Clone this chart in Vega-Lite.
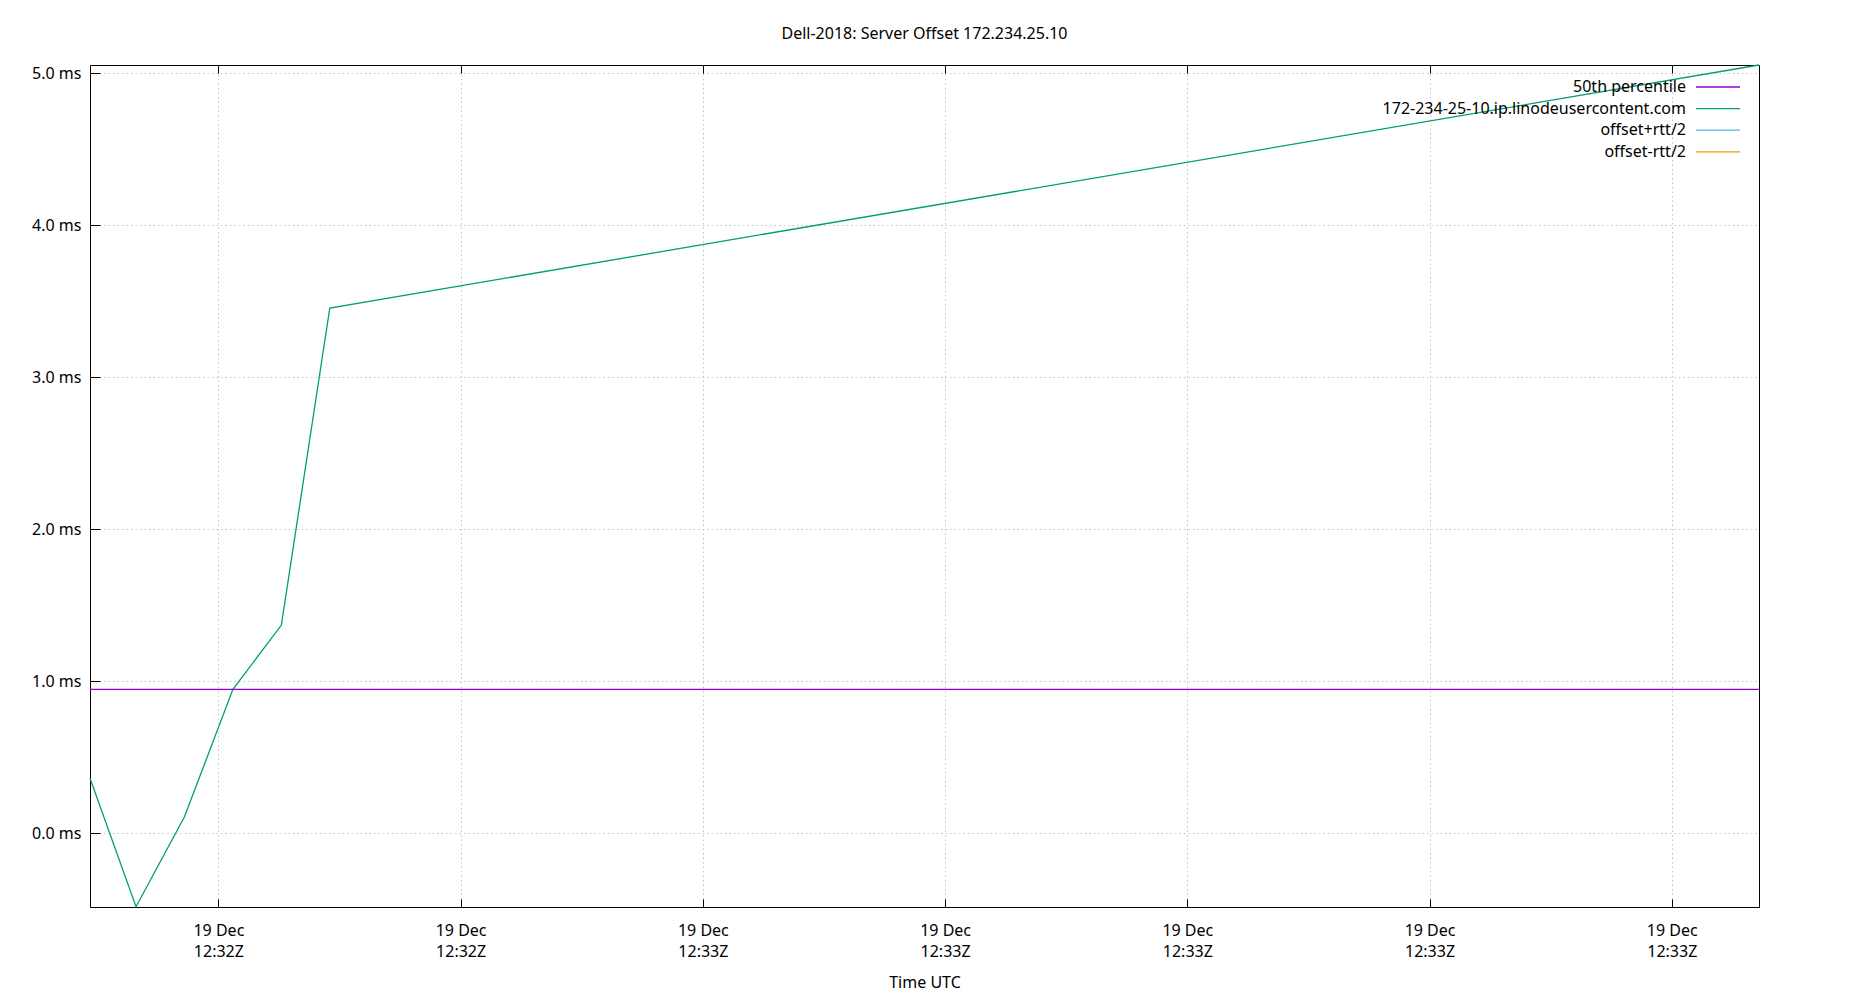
{
  "$schema": "https://vega.github.io/schema/vega-lite/v6.json",
  "width": 1669,
  "height": 842,
  "autosize": {"type": "none"},
  "padding": {"left": 90, "top": 65, "right": 91, "bottom": 93},
  "background": "white",
  "title": {
    "text": "Dell-2018: Server Offset 172.234.25.10",
    "anchor": "middle",
    "frame": "group",
    "offset": 7,
    "baseline": "alphabetic",
    "fontSize": 16,
    "font": "Noto Sans",
    "fontWeight": "normal",
    "color": "black"
  },
  "config": {
    "view": {"stroke": "black", "strokeWidth": 1},
    "font": "Noto Sans",
    "axis": {
      "domain": false,
      "tickColor": "black",
      "tickWidth": 1,
      "labelColor": "black",
      "labelFontSize": 16,
      "labelFont": "Noto Sans",
      "titleFont": "Noto Sans",
      "titleFontSize": 16,
      "titleFontWeight": "normal",
      "titleColor": "black",
      "gridColor": "#c4c4c4",
      "gridDash": [1.5, 3],
      "gridWidth": 1
    }
  },
  "layer": [
    {
      "data": {
        "values": [
          {"time": "2024-12-19T12:32:34.700Z", "value": 0.362, "series": "172-234-25-10.ip.linodeusercontent.com"},
          {"time": "2024-12-19T12:32:36.600Z", "value": -0.483, "series": "172-234-25-10.ip.linodeusercontent.com"},
          {"time": "2024-12-19T12:32:38.600Z", "value": 0.109, "series": "172-234-25-10.ip.linodeusercontent.com"},
          {"time": "2024-12-19T12:32:40.600Z", "value": 0.947, "series": "172-234-25-10.ip.linodeusercontent.com"},
          {"time": "2024-12-19T12:32:42.600Z", "value": 1.370, "series": "172-234-25-10.ip.linodeusercontent.com"},
          {"time": "2024-12-19T12:32:44.600Z", "value": 3.456, "series": "172-234-25-10.ip.linodeusercontent.com"},
          {"time": "2024-12-19T12:33:43.600Z", "value": 5.055, "series": "172-234-25-10.ip.linodeusercontent.com"}
        ]
      },
      "mark": {"type": "line", "strokeWidth": 1.3},
      "encoding": {
        "x": {
          "field": "time",
          "type": "temporal",
          "scale": {
            "type": "utc",
            "nice": false,
            "domain": [
              {"year": 2024, "month": 12, "date": 19, "hours": 12, "minutes": 32, "seconds": 34, "milliseconds": 700, "utc": true},
              {"year": 2024, "month": 12, "date": 19, "hours": 12, "minutes": 33, "seconds": 43, "milliseconds": 600, "utc": true}
            ]
          },
          "axis": {
            "orient": "bottom",
            "values": [
              {"year": 2024, "month": 12, "date": 19, "hours": 12, "minutes": 32, "seconds": 40, "utc": true},
              {"year": 2024, "month": 12, "date": 19, "hours": 12, "minutes": 32, "seconds": 50, "utc": true},
              {"year": 2024, "month": 12, "date": 19, "hours": 12, "minutes": 33, "seconds": 0, "utc": true},
              {"year": 2024, "month": 12, "date": 19, "hours": 12, "minutes": 33, "seconds": 10, "utc": true},
              {"year": 2024, "month": 12, "date": 19, "hours": 12, "minutes": 33, "seconds": 20, "utc": true},
              {"year": 2024, "month": 12, "date": 19, "hours": 12, "minutes": 33, "seconds": 30, "utc": true},
              {"year": 2024, "month": 12, "date": 19, "hours": 12, "minutes": 33, "seconds": 40, "utc": true}
            ],
            "labelExpr": "[utcFormat(datum.value, '%d %b'), utcFormat(datum.value, '%H:%MZ')]",
            "labelAngle": 0,
            "labelFlush": false,
            "labelOverlap": false,
            "labelBaseline": "top",
            "labelLineHeight": 21,
            "tickSize": -8,
            "labelPadding": 23,
            "grid": true,
            "title": "Time UTC",
            "titlePadding": 15.5
          }
        },
        "y": {
          "field": "value",
          "type": "quantitative",
          "scale": {"domain": [-0.485, 5.055], "nice": false, "zero": false},
          "axis": {
            "values": [0, 1, 2, 3, 4, 5],
            "labelExpr": "format(datum.value, '.1f') + ' ms'",
            "tickSize": -10,
            "labelPadding": 19,
            "grid": true,
            "title": null
          }
        },
        "color": {
          "field": "series",
          "type": "nominal",
          "scale": {
            "domain": ["50th percentile", "172-234-25-10.ip.linodeusercontent.com", "offset+rtt/2", "offset-rtt/2"],
            "range": ["#9400d3", "#009e73", "#56b4e9", "#e69f00"]
          },
          "legend": {
            "title": null,
            "orient": "none",
            "legendX": 1607,
            "legendY": 10,
            "direction": "vertical",
            "symbolType": "M-2,0H2",
            "symbolSize": 484,
            "symbolOffset": 9,
            "symbolStrokeWidth": 1.3,
            "labelAlign": "right",
            "labelOffset": -44,
            "labelFontSize": 16,
            "labelFont": "Noto Sans",
            "labelColor": "black",
            "labelLimit": 1000,
            "rowPadding": 1.6,
            "padding": 0
          }
        }
      }
    },
    {
      "data": {
        "values": [
          {"time": "2024-12-19T12:32:34.700Z", "value": 0.947, "series": "50th percentile"},
          {"time": "2024-12-19T12:33:43.600Z", "value": 0.947, "series": "50th percentile"}
        ]
      },
      "mark": {"type": "line", "strokeWidth": 1.3},
      "encoding": {
        "x": {
          "field": "time",
          "type": "temporal",
          "axis": {
            "orient": "top",
            "values": [
              {"year": 2024, "month": 12, "date": 19, "hours": 12, "minutes": 32, "seconds": 40, "utc": true},
              {"year": 2024, "month": 12, "date": 19, "hours": 12, "minutes": 32, "seconds": 50, "utc": true},
              {"year": 2024, "month": 12, "date": 19, "hours": 12, "minutes": 33, "seconds": 0, "utc": true},
              {"year": 2024, "month": 12, "date": 19, "hours": 12, "minutes": 33, "seconds": 10, "utc": true},
              {"year": 2024, "month": 12, "date": 19, "hours": 12, "minutes": 33, "seconds": 20, "utc": true},
              {"year": 2024, "month": 12, "date": 19, "hours": 12, "minutes": 33, "seconds": 30, "utc": true},
              {"year": 2024, "month": 12, "date": 19, "hours": 12, "minutes": 33, "seconds": 40, "utc": true}
            ],
            "labels": false,
            "grid": false,
            "tickSize": -8,
            "title": null
          }
        },
        "y": {"field": "value", "type": "quantitative", "axis": null},
        "color": {"field": "series", "type": "nominal"}
      }
    }
  ],
  "resolve": {"axis": {"x": "independent", "y": "independent"}}
}
